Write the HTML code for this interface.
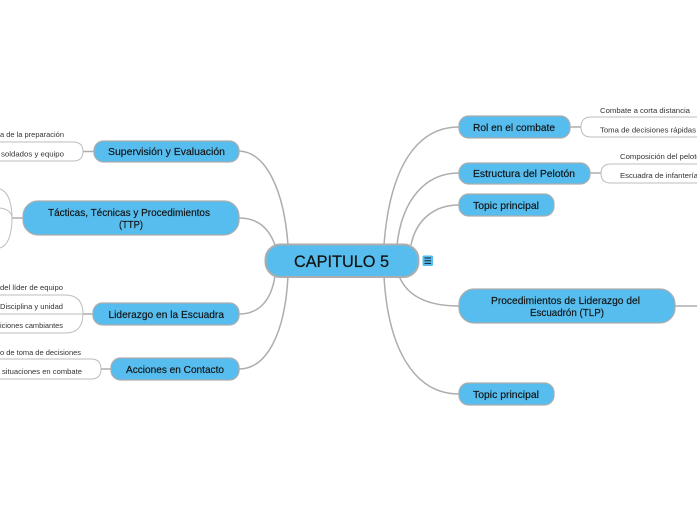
<!DOCTYPE html>
<html lang="es">
<head>
<meta charset="utf-8">
<title>CAPITULO 5</title>
<style>
html,body{margin:0;padding:0;background:#fff;width:697px;height:520px;overflow:hidden}
svg{display:block}
text{font-family:"Liberation Sans",sans-serif;fill:#111}
.n{font-size:10.5px;stroke:#111;stroke-width:.15px}
.c{font-size:7.5px;fill:#333}
.con{fill:none;stroke:#adadad;stroke-width:1.5}
.sub{fill:none;stroke:#bdbdbd;stroke-width:1}
.box{fill:#56bdee;stroke:#adadad;stroke-width:1.2}
</style>
</head>
<body>
<svg width="697" height="520" viewBox="0 0 697 520" xmlns="http://www.w3.org/2000/svg">
<!-- main connectors -->
<path class="con" d="M239 151 C266 152 284 190 288 245"/>
<path class="con" d="M239 218 C256 218 268 226 275 245"/>
<path class="con" d="M239 314 C258 314 271 302 275 276"/>
<path class="con" d="M239 369 C266 369 285 335 288 276"/>
<path class="con" d="M459 127 C418 127 390 165 384 245"/>
<path class="con" d="M459 173 C425 173 402 200 397 245"/>
<path class="con" d="M459 205 C434 205 416 220 411 245"/>
<path class="con" d="M459 306 C430 306 408 298 399 276"/>
<path class="con" d="M459 394 C415 394 388 350 384 276"/>
<path class="con" d="M675 306 H697"/>
<!-- stubs -->
<path class="con" d="M83 151.5H94M12 218H23M83 314H93M101 369H111M570 127H581M590 173H601"/>
<!-- sub brackets -->
<path class="sub" d="M-5 142H73Q83 142 83 151.5Q83 161 73 161H-5"/>
<path class="sub" d="M0 189C9 192 12 205 12 218C12 232 9 245 0 248"/>
<path class="sub" d="M0 208C8 209 12 213 12 218"/>
<path class="sub" d="M-5 295H65Q83 295 83 314Q83 333 65 333H-5M-5 314H83"/>
<path class="sub" d="M-5 359H91Q101 359 101 369Q101 379 91 379H-5"/>
<path class="sub" d="M700 117H591Q581 117 581 127Q581 137 591 137H700"/>
<path class="sub" d="M700 164H611Q601 164 601 173.500Q601 183 611 183H700"/>
<!-- nodes -->
<rect class="box" x="94" y="141" width="145" height="21" rx="9.500"/>
<rect class="box" x="23" y="201" width="216" height="34" rx="15"/>
<rect class="box" x="93" y="303" width="146" height="22" rx="9.500"/>
<rect class="box" x="111" y="358" width="128" height="22" rx="9.500"/>
<rect class="box" x="459" y="116" width="111" height="22" rx="9.500"/>
<rect class="box" x="459" y="163" width="131" height="21" rx="9.500"/>
<rect class="box" x="459" y="194" width="95" height="22" rx="9.500"/>
<rect class="box" x="459" y="289" width="216" height="34" rx="15"/>
<rect class="box" x="459" y="383" width="95" height="22" rx="9.500"/>
<rect x="265.500" y="244.500" width="153" height="32.500" rx="15" fill="#56bdee" stroke="#adadad" stroke-width="2"/>
<!-- icon -->
<rect x="422.500" y="255.500" width="10.500" height="10.500" rx="1.500" fill="#56bdee"/>
<path d="M424.500 258H431M424.500 260.700H431M424.500 263.400H431" stroke="#123" stroke-width="1"/>
<!-- node text -->
<text x="294" y="267" style="font-size:16.500px;stroke:#111;stroke-width:.2px" textLength="95" lengthAdjust="spacingAndGlyphs">CAPITULO 5</text>
<text class="n" x="108" y="155" textLength="117" lengthAdjust="spacingAndGlyphs">Supervisión y Evaluación</text>
<text class="n" x="48" y="216" textLength="162" lengthAdjust="spacingAndGlyphs">Tácticas, Técnicas y Procedimientos</text>
<text class="n" x="119" y="228" textLength="24" lengthAdjust="spacingAndGlyphs">(TTP)</text>
<text class="n" x="108.500" y="318" textLength="115.500" lengthAdjust="spacingAndGlyphs">Liderazgo en la Escuadra</text>
<text class="n" x="126" y="373" textLength="98" lengthAdjust="spacingAndGlyphs">Acciones en Contacto</text>
<text class="n" x="473" y="131" textLength="82" lengthAdjust="spacingAndGlyphs">Rol en el combate</text>
<text class="n" x="473" y="177" textLength="102" lengthAdjust="spacingAndGlyphs">Estructura del Pelotón</text>
<text class="n" x="473" y="209" textLength="66" lengthAdjust="spacingAndGlyphs">Topic principal</text>
<text class="n" x="491" y="304" textLength="149" lengthAdjust="spacingAndGlyphs">Procedimientos de Liderazgo del</text>
<text class="n" x="530" y="316" textLength="74" lengthAdjust="spacingAndGlyphs">Escuadrón (TLP)</text>
<text class="n" x="473" y="398" textLength="66" lengthAdjust="spacingAndGlyphs">Topic principal</text>
<!-- child text -->
<text class="c" x="0" y="137" textLength="64" lengthAdjust="spacingAndGlyphs">a de la preparación</text>
<text class="c" x="1" y="156.500" textLength="63" lengthAdjust="spacingAndGlyphs">soldados y equipo</text>
<text class="c" x="0" y="290" textLength="63" lengthAdjust="spacingAndGlyphs">del líder de equipo</text>
<text class="c" x="0" y="309" textLength="63" lengthAdjust="spacingAndGlyphs">Disciplina y unidad</text>
<text class="c" x="0" y="328" textLength="63" lengthAdjust="spacingAndGlyphs">iciones cambiantes</text>
<text class="c" x="0" y="355" textLength="81" lengthAdjust="spacingAndGlyphs">o de toma de decisiones</text>
<text class="c" x="2" y="374" textLength="80" lengthAdjust="spacingAndGlyphs">situaciones en combate</text>
<text class="c" x="600" y="113" textLength="90" lengthAdjust="spacingAndGlyphs">Combate a corta distancia</text>
<text class="c" x="600" y="132.500" textLength="96" lengthAdjust="spacingAndGlyphs">Toma de decisiones rápidas</text>
<text class="c" x="620" y="159" textLength="85" lengthAdjust="spacingAndGlyphs">Composición del pelotón</text>
<text class="c" x="620" y="178" textLength="78" lengthAdjust="spacingAndGlyphs">Escuadra de infantería</text>
</svg>
</body>
</html>
